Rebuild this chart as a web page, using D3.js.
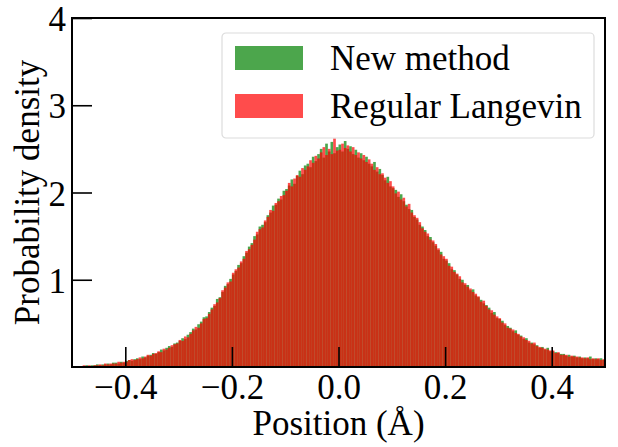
<!DOCTYPE html>
<html>
<head>
<meta charset="utf-8">
<script src="https://cdn.jsdelivr.net/npm/d3@7"></script>
<style>
  body { margin: 0; background: #fff; }
  svg text { font-family: "Liberation Serif", "Times New Roman", serif; fill: #000; }
</style>
</head>
<body>
<div id="chart"></div>
<script>
// histogram bins: start at -0.5, width 0.005, 200 bins
const binStart = -0.5;
const binWidth = 0.005;

// probability density per bin, "New method"
const newMethod = [
  0, 0, 0.01, 0.01,  0.01, 0.02, 0.01, 0.02,  0.02, 0.03, 0.02, 0.03,  0.03, 0.04, 0.03, 0.05,
  0.05, 0.04, 0.06, 0.05,  0.07, 0.08, 0.07, 0.09,  0.10, 0.09, 0.12, 0.11,  0.13, 0.14, 0.16, 0.15,
  0.17, 0.20, 0.19, 0.22,  0.24, 0.23, 0.27, 0.28,  0.30, 0.33, 0.32, 0.37,  0.40, 0.44, 0.43, 0.49,
  0.52, 0.57, 0.58, 0.63,  0.68, 0.70, 0.78, 0.80,  0.86, 0.93, 0.95, 1.01,  1.06, 1.10, 1.17, 1.19,
  1.27, 1.31, 1.38, 1.42,  1.50, 1.52, 1.61, 1.63,  1.66, 1.74, 1.77, 1.85,  1.86, 1.93, 1.92, 2.02,
  2.04, 2.08, 2.15, 2.10,  2.19, 2.25, 2.21, 2.31,  2.33, 2.29, 2.41, 2.36,  2.44, 2.50, 2.40, 2.56,
  2.47, 2.58, 2.45, 2.52,  2.55, 2.47, 2.59, 2.50,  2.53, 2.44, 2.49, 2.40,  2.45, 2.37, 2.41, 2.33,
  2.30, 2.35, 2.24, 2.27,  2.20, 2.14, 2.18, 2.07,  2.05, 2.03, 1.95, 1.98,  1.90, 1.86, 1.81, 1.80,
  1.72, 1.69, 1.63, 1.61,  1.57, 1.50, 1.49, 1.43,  1.39, 1.34, 1.32, 1.24,  1.22, 1.19, 1.12, 1.11,
  1.06, 1.01, 1.00, 0.94,  0.94, 0.88, 0.89, 0.82,  0.80, 0.77, 0.73, 0.71,  0.68, 0.62, 0.63, 0.56,
  0.55, 0.53, 0.48, 0.47,  0.45, 0.41, 0.42, 0.37,  0.36, 0.32, 0.33, 0.28,  0.28, 0.26, 0.25, 0.22,
  0.23, 0.20, 0.22, 0.18,  0.18, 0.17, 0.16, 0.15,  0.15, 0.13, 0.14, 0.12,  0.13, 0.11, 0.12, 0.10,
  0.11, 0.10, 0.12, 0.09,  0.10, 0.09, 0.10, 0.08
];

// probability density per bin, "Regular Langevin"
const regularLangevin = [
  0, 0.01, 0, 0.01,  0.02, 0.01, 0.02, 0.01,  0.02, 0.02, 0.03, 0.02,  0.04, 0.03, 0.04, 0.04,
  0.04, 0.06, 0.05, 0.06,  0.06, 0.08, 0.09, 0.08,  0.09, 0.11, 0.10, 0.12,  0.14, 0.13, 0.15, 0.16,
  0.18, 0.17, 0.21, 0.20,  0.22, 0.25, 0.26, 0.27,  0.31, 0.30, 0.35, 0.34,  0.38, 0.42, 0.46, 0.45,
  0.50, 0.55, 0.56, 0.61,  0.66, 0.72, 0.74, 0.79,  0.88, 0.91, 0.97, 0.98,  1.08, 1.12, 1.14, 1.21,
  1.24, 1.33, 1.35, 1.40,  1.46, 1.55, 1.58, 1.60,  1.68, 1.72, 1.80, 1.79,  1.88, 1.90, 1.96, 1.97,
  2.02, 2.11, 2.07, 2.16,  2.20, 2.18, 2.28, 2.26,  2.30, 2.37, 2.34, 2.42,  2.39, 2.46, 2.52, 2.43,
  2.50, 2.44, 2.62, 2.48,  2.49, 2.56, 2.51, 2.54,  2.47, 2.52, 2.43, 2.46,  2.39, 2.43, 2.35, 2.38,
  2.33, 2.26, 2.29, 2.21,  2.22, 2.17, 2.11, 2.13,  2.07, 1.99, 2.01, 1.92,  1.94, 1.84, 1.87, 1.77,
  1.74, 1.71, 1.66, 1.59,  1.55, 1.53, 1.46, 1.45,  1.41, 1.36, 1.29, 1.27,  1.24, 1.16, 1.15, 1.09,
  1.07, 1.04, 0.97, 0.96,  0.92, 0.90, 0.86, 0.84,  0.81, 0.75, 0.76, 0.70,  0.66, 0.65, 0.60, 0.58,
  0.56, 0.51, 0.50, 0.45,  0.44, 0.43, 0.39, 0.38,  0.35, 0.34, 0.31, 0.30,  0.27, 0.28, 0.24, 0.23,
  0.22, 0.21, 0.20, 0.19,  0.19, 0.16, 0.17, 0.14,  0.14, 0.14, 0.12, 0.13,  0.12, 0.12, 0.11, 0.11,
  0.10, 0.11, 0.09, 0.10,  0.09, 0.10, 0.08, 0.09
];

const xTicks = [-0.4, -0.2, 0.0, 0.2, 0.4];
const yTicks = [1, 2, 3, 4];
const seriesNames = ['New method', 'Regular Langevin'];
const seriesColors = ['#008000', '#ff0000'];

const totalW = 618, totalH = 447;
const margin = {top: 18, right: 13, bottom: 80, left: 72};
const W = totalW - margin.left - margin.right;
const H = totalH - margin.top - margin.bottom;
const fontSize = 35;
const serif = '"Liberation Serif", "Times New Roman", serif';

const svgRoot = d3.select('#chart').append('svg')
  .attr('width', totalW)
  .attr('height', totalH);
const svg = svgRoot.append('g')
  .attr('transform', `translate(${margin.left},${margin.top})`);

const x = d3.scaleLinear().domain([-0.5, 0.5]).range([0, W]);
const y = d3.scaleLinear().domain([0, 4]).range([H, 0]);

svg.append('clipPath').attr('id', 'plotclip')
  .append('rect').attr('width', W).attr('height', H);

const plot = svg.append('g').attr('clip-path', 'url(#plotclip)');

// green first, red drawn over it (both translucent like matplotlib alpha=.7)
[newMethod, regularLangevin].forEach((vals, k) => {
  plot.append('g')
    .selectAll('rect')
    .data(vals)
    .join('rect')
      .attr('x', (d, i) => x(binStart + i * binWidth))
      .attr('width', (d, i) => x(binStart + (i + 1) * binWidth) - x(binStart + i * binWidth))
      .attr('y', d => y(d))
      .attr('height', d => H - y(d))
      .attr('fill', seriesColors[k])
      .attr('fill-opacity', 0.7);
});

// axes, ticks pointing inward
const tickLen = 20;
const xAxis = d3.axisBottom(x).tickValues(xTicks).tickSizeInner(-tickLen).tickSizeOuter(0)
  .tickPadding(7)
  .tickFormat(d => d3.format('.1f')(d).replace('-', '\u2212'));
const gx = svg.append('g').attr('transform', `translate(0,${H})`).call(xAxis)
  .attr('font-family', serif).attr('font-size', fontSize);
gx.select('.domain').remove();
gx.selectAll('.tick line').attr('stroke', '#000').attr('stroke-width', 1.6);
gx.selectAll('.tick text').style('font-family', serif).style('font-size', fontSize + 'px');

const yAxis = d3.axisLeft(y).tickValues(yTicks).tickSizeInner(-tickLen).tickSizeOuter(0)
  .tickPadding(6)
  .tickFormat(d3.format('d'));
const gy = svg.append('g').call(yAxis)
  .attr('font-family', serif).attr('font-size', fontSize);
gy.select('.domain').remove();
gy.selectAll('.tick line').attr('stroke', '#000').attr('stroke-width', 1.6);
gy.selectAll('.tick text').style('font-family', serif).style('font-size', fontSize + 'px')
  .attr('dy', '0.36em');

// legend
const legend = svg.append('g').attr('transform', `translate(${222 - margin.left},${33 - margin.top})`);
legend.append('rect')
  .attr('width', 372).attr('height', 105)
  .attr('rx', 4)
  .attr('fill', '#fff').attr('fill-opacity', 0.8)
  .attr('stroke', '#dcdcdc').attr('stroke-width', 1.2);
seriesNames.forEach((name, k) => {
  const row = legend.append('g').attr('transform', `translate(0,${13 + k * 48})`);
  row.append('rect')
    .attr('x', 13).attr('width', 68).attr('height', 24)
    .attr('fill', seriesColors[k]).attr('fill-opacity', 0.7);
  row.append('text')
    .attr('x', 108).attr('y', 24)
    .attr('font-size', fontSize)
    .text(name);
});

// frame
svg.append('rect')
  .attr('width', W).attr('height', H)
  .attr('fill', 'none').attr('stroke', '#000').attr('stroke-width', 2);

// axis labels
svgRoot.append('text')
  .attr('x', margin.left + W / 2).attr('y', 435)
  .attr('text-anchor', 'middle')
  .attr('font-size', fontSize)
  .text('Position (\u00c5)');
svgRoot.append('text')
  .attr('transform', `translate(39,${margin.top + H / 2}) rotate(-90)`)
  .attr('text-anchor', 'middle')
  .attr('font-size', fontSize)
  .text('Probability density');
</script>
</body>
</html>
